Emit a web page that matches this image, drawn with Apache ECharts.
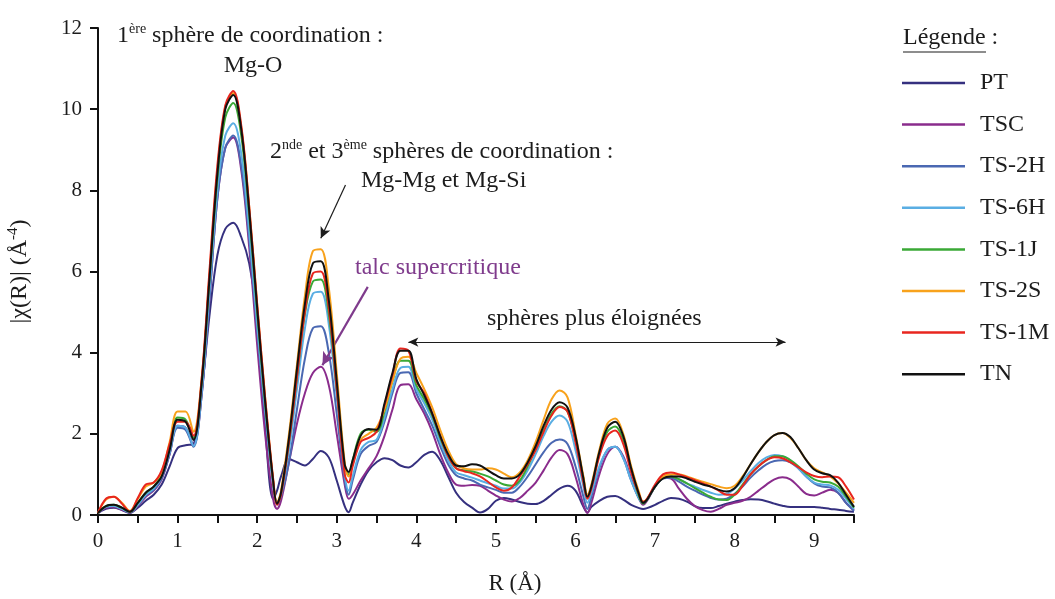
<!DOCTYPE html>
<html>
<head>
<meta charset="utf-8">
<script src="https://cdn.jsdelivr.net/npm/echarts@6/dist/echarts.min.js"></script>
<style>
html, body { margin: 0; padding: 0; background: #fff; }
#chart { width: 1055px; height: 599px; }
</style>
</head>
<body>
<div id="chart"></div>
<script>
// R (Å) sampling shared by every curve
const R = [0, 0.1, 0.2, 0.3, 0.4, 0.5, 0.6, 0.7, 0.8, 0.9, 1.0, 1.1, 1.2,
    1.3, 1.4, 1.5, 1.6, 1.7, 1.8, 1.9, 2.0, 2.1, 2.2,
    2.25, 2.3, 2.4, 2.5, 2.6, 2.7, 2.8, 2.9, 3.0, 3.1,
    3.15, 3.2, 3.3, 3.4, 3.5, 3.6, 3.7, 3.8, 3.9, 4.0,
    4.1, 4.2, 4.3, 4.4, 4.5, 4.6, 4.7, 4.8, 4.9, 5.0,
    5.1, 5.2, 5.3, 5.4, 5.5, 5.6, 5.7, 5.8, 5.9, 6.0, 6.1,
    6.15, 6.2, 6.3, 6.4, 6.5, 6.6, 6.7, 6.8,
    6.85, 6.9, 7.0, 7.1, 7.2, 7.3, 7.4, 7.5, 7.6, 7.7, 7.8, 7.9, 8.0,
    8.1, 8.2, 8.3, 8.4, 8.5, 8.6, 8.7, 8.8, 8.9, 9.0, 9.1, 9.2, 9.3, 9.4, 9.5];

const PT = [0.05, 0.15, 0.18, 0.12, 0.05, 0.18, 0.35, 0.5, 0.75, 1.2, 1.65, 1.72, 1.75,
    3.0, 4.9, 6.4, 7.05, 7.2, 6.85, 6.2, 4.9, 2.2, 0.4,
    0.6, 0.95, 1.38, 1.3, 1.22, 1.38, 1.58, 1.42, 0.85, 0.22,
    0.07, 0.3, 0.75, 1.1, 1.3, 1.4, 1.35, 1.22, 1.17, 1.3,
    1.48, 1.56, 1.35, 0.95, 0.55, 0.32, 0.18, 0.06, 0.15, 0.35,
    0.42, 0.38, 0.32, 0.28, 0.27, 0.35, 0.5, 0.65, 0.72, 0.6, 0.2,
    0.06, 0.2, 0.35, 0.45, 0.47, 0.38, 0.25, 0.17,
    0.15, 0.17, 0.25, 0.35, 0.42, 0.4, 0.33, 0.22, 0.17, 0.17, 0.22, 0.28, 0.33,
    0.37, 0.39, 0.38, 0.34, 0.28, 0.23, 0.2, 0.2, 0.2, 0.2, 0.18, 0.15, 0.13, 0.1, 0.08];

const TSC = [0.05, 0.18, 0.2, 0.13, 0.06, 0.22, 0.45, 0.6, 0.88, 1.5, 2.2, 2.15, 1.72,
    2.9, 5.3, 7.8, 9.05, 9.3, 8.5, 6.6, 4.2, 2.0, 0.4,
    0.15, 0.35, 1.3, 2.25, 3.0, 3.5, 3.65, 3.2, 2.0, 0.75,
    0.4, 0.5, 0.85, 1.15, 1.45, 1.95, 2.6, 3.2, 3.22, 2.85,
    2.5, 2.05, 1.5, 1.05, 0.75, 0.72, 0.74, 0.72, 0.6, 0.48,
    0.38, 0.33, 0.42, 0.6, 0.8, 1.1, 1.42, 1.6, 1.5, 0.95, 0.25,
    0.05, 0.3, 1.0, 1.5, 1.68, 1.45, 0.9, 0.4,
    0.25, 0.35, 0.7, 0.92, 0.9, 0.65, 0.4, 0.22, 0.12, 0.08, 0.15, 0.25, 0.3,
    0.35, 0.45, 0.6, 0.75, 0.88, 0.93, 0.88, 0.7, 0.52, 0.48, 0.55, 0.62, 0.55, 0.3, 0.12];

const TS_2H = [0.05, 0.2, 0.22, 0.15, 0.07, 0.25, 0.48, 0.62, 0.9, 1.5, 2.15, 2.1, 1.68,
    2.9, 5.3, 7.8, 9.05, 9.35, 8.6, 6.8, 4.55, 2.5, 0.75,
    0.26, 0.45, 1.3, 2.6, 3.85, 4.6, 4.65, 4.0, 2.5, 0.85,
    0.5, 0.85, 1.5, 1.7, 1.8, 2.3, 3.0, 3.5, 3.52, 3.0,
    2.6, 2.2, 1.7, 1.25, 0.98, 0.9, 0.85, 0.75, 0.68, 0.62,
    0.55, 0.55, 0.7, 0.95, 1.25, 1.55, 1.78, 1.86, 1.75, 1.2, 0.45,
    0.15, 0.45, 1.15, 1.6, 1.68, 1.4, 0.85, 0.4,
    0.3, 0.38, 0.7, 0.9, 0.92, 0.82, 0.7, 0.6, 0.5, 0.42, 0.38, 0.4, 0.52,
    0.7, 0.92, 1.1, 1.25, 1.33, 1.35, 1.3, 1.15, 0.95, 0.78, 0.7, 0.68, 0.55, 0.3, 0.1];

const TS_6H = [0.05, 0.2, 0.22, 0.15, 0.07, 0.25, 0.5, 0.65, 0.95, 1.55, 2.2, 2.15, 1.7,
    3.0, 5.5, 8.0, 9.35, 9.65, 8.9, 7.0, 4.7, 2.6, 0.8,
    0.28, 0.5, 1.6, 3.1, 4.6, 5.45, 5.5, 4.7, 2.9, 1.0,
    0.6, 0.95, 1.6, 1.8, 1.85, 2.4, 3.1, 3.62, 3.65, 3.1,
    2.75, 2.35, 1.8, 1.35, 1.05, 0.98, 0.92, 0.85, 0.78, 0.72,
    0.65, 0.65, 0.8, 1.1, 1.5, 1.95, 2.3, 2.45, 2.3, 1.6, 0.7,
    0.3, 0.55, 1.2, 1.6, 1.68, 1.4, 0.85, 0.4,
    0.3, 0.38, 0.7, 0.92, 0.95, 0.88, 0.78, 0.7, 0.62, 0.55, 0.5, 0.52, 0.65,
    0.85, 1.08, 1.28, 1.42, 1.48, 1.45, 1.35, 1.15, 0.95, 0.8, 0.75, 0.73, 0.62, 0.4, 0.15];

const TS_1J = [0.05, 0.22, 0.25, 0.18, 0.08, 0.3, 0.55, 0.7, 1.0, 1.65, 2.4, 2.35, 1.9,
    3.2, 5.8, 8.3, 9.8, 10.15, 9.35, 7.4, 5.0, 2.75, 0.85,
    0.28, 0.55, 1.8, 3.4, 4.95, 5.75, 5.8, 4.95, 3.1, 1.2,
    1.0, 1.35, 2.0, 2.1, 2.05, 2.55, 3.3, 3.8, 3.8, 3.2,
    2.85, 2.45, 1.9, 1.45, 1.15, 1.1, 1.08, 1.02, 0.95, 0.85,
    0.75, 0.72, 0.85, 1.2, 1.65, 2.1, 2.5, 2.68, 2.55, 1.85, 0.9,
    0.45, 0.7, 1.5, 2.05, 2.18, 1.85, 1.1, 0.45,
    0.28, 0.38, 0.7, 0.92, 0.95, 0.88, 0.78, 0.66, 0.55, 0.45, 0.38, 0.37, 0.5,
    0.75, 1.0, 1.2, 1.35, 1.45, 1.45, 1.35, 1.2, 1.02, 0.88, 0.82, 0.8, 0.7, 0.45, 0.18];

const TS_2S = [0.05, 0.38, 0.45, 0.3, 0.1, 0.4, 0.7, 0.8, 1.05, 1.8, 2.55, 2.55, 2.05,
    3.3, 5.9, 8.5, 10.05, 10.4, 9.55, 7.6, 5.2, 2.9, 0.9,
    0.3, 0.6, 2.0, 3.7, 5.4, 6.5, 6.55, 5.6, 3.5, 1.3,
    0.95, 1.25, 1.85, 2.0, 2.15, 2.6, 3.3, 3.85, 3.9, 3.5,
    3.1, 2.65, 2.1, 1.6, 1.25, 1.15, 1.12, 1.12, 1.15, 1.12,
    1.02, 0.93, 1.05, 1.35, 1.8, 2.35, 2.85, 3.07, 2.9, 2.0, 0.95,
    0.5, 0.75, 1.6, 2.25, 2.38, 2.0, 1.2, 0.55,
    0.33, 0.4, 0.72, 0.95, 1.0, 1.0, 0.95, 0.88, 0.82, 0.76, 0.7, 0.66, 0.72,
    0.95, 1.25, 1.55, 1.8, 1.97, 2.02, 1.9, 1.65, 1.35, 1.15, 1.05, 0.95, 0.78, 0.55, 0.3];

const TS_1M = [0.05, 0.4, 0.45, 0.28, 0.08, 0.42, 0.75, 0.8, 1.1, 1.75, 2.3, 2.3, 1.95,
    3.3, 6.0, 8.6, 10.1, 10.45, 9.6, 7.6, 5.2, 2.9, 0.9,
    0.25, 0.5, 1.8, 3.4, 5.0, 5.95, 6.0, 5.1, 3.1, 1.0,
    0.8, 1.2, 1.8, 1.9, 2.05, 2.7, 3.45, 4.1, 4.05, 3.3,
    3.0, 2.5, 1.95, 1.45, 1.15, 1.08, 1.03, 0.95, 0.82, 0.68,
    0.6, 0.68, 0.95, 1.25, 1.6, 2.05, 2.45, 2.66, 2.55, 1.8, 0.8,
    0.4, 0.65, 1.45, 1.95, 2.08, 1.75, 1.05, 0.5,
    0.32, 0.4, 0.75, 1.0, 1.05, 1.0, 0.93, 0.86, 0.78, 0.7, 0.6, 0.5, 0.5,
    0.72, 1.0, 1.2, 1.35, 1.42, 1.4, 1.3, 1.18, 1.05, 0.96, 0.93, 0.95, 0.93, 0.7, 0.38];

const TN = [0.05, 0.22, 0.25, 0.18, 0.08, 0.3, 0.55, 0.7, 0.95, 1.6, 2.35, 2.3, 1.85,
    3.2, 5.8, 8.4, 10.0, 10.35, 9.5, 7.5, 5.1, 2.8, 0.85,
    0.28, 0.55, 1.9, 3.6, 5.2, 6.2, 6.25, 5.3, 3.3, 1.25,
    1.06, 1.35, 1.95, 2.12, 2.1, 2.75, 3.5, 4.05, 4.05, 3.35,
    2.95, 2.5, 1.95, 1.5, 1.22, 1.2, 1.25, 1.22, 1.1, 0.98,
    0.9, 0.9, 1.0, 1.3, 1.7, 2.2, 2.6, 2.78, 2.65, 1.95, 0.9,
    0.45, 0.7, 1.55, 2.15, 2.3, 1.95, 1.15, 0.5,
    0.3, 0.38, 0.7, 0.9, 0.95, 0.95, 0.9, 0.82, 0.75, 0.7, 0.62, 0.58, 0.66,
    0.92, 1.25, 1.55, 1.8, 1.97, 2.02, 1.92, 1.65, 1.35, 1.12, 1.03, 0.98, 0.8, 0.5, 0.2];

const names = ['PT', 'TSC', 'TS-2H', 'TS-6H', 'TS-1J', 'TS-2S', 'TS-1M', 'TN'];
const curves = [PT, TSC, TS_2H, TS_6H, TS_1J, TS_2S, TS_1M, TN];
const colors = ['#35307f', '#8a2c8c', '#4a68b2', '#5aaee3', '#3aa936', '#f8a21c', '#e8261f', '#111111'];

const FONT = '"Liberation Serif", "Times New Roman", serif';
const INK = '#1c1c1c';
const PURPLE = '#7f3b8c';

const chart = echarts.init(document.getElementById('chart'));

let series = curves.map(function (vals, k) {
    return {
        name: names[k],
        type: 'line',
        data: R.map(function (r, i) { return [r, vals[i]]; }),
        smooth: 0.35,
        symbol: 'none',
        lineStyle: { color: colors[k], width: 2 },
        itemStyle: { color: colors[k] },
        z: 2 + k
    };
});

// annotation arrows, placed in data coordinates
series[7].markLine = {
    silent: true,
    animation: false,
    label: { show: false },
    symbolSize: 10,
    data: [
        [{ coord: [3.11, 8.13], symbol: 'none', lineStyle: { color: INK, width: 1.2, type: 'solid' } },
            { coord: [2.80, 6.82], symbol: 'arrow', symbolSize: [8, 11] }],
        [{ coord: [3.39, 5.62], symbol: 'none', lineStyle: { color: PURPLE, width: 2.2, type: 'solid' } },
            { coord: [2.82, 3.69], symbol: 'arrow', symbolSize: [10, 13] }],
        [{ coord: [3.9, 4.26], symbol: 'arrow', symbolSize: [7, 10], lineStyle: { color: INK, width: 1.2, type: 'solid' } },
            { coord: [8.64, 4.26], symbol: 'arrow', symbolSize: [7, 10] }]
    ]
};

const bigText = { fontSize: 24, fontFamily: FONT, lineHeight: 28, fill: INK, color: INK };
const supText = { fontSize: 14, fontFamily: FONT, lineHeight: 15, verticalAlign: 'top', fill: INK, color: INK };
const FONT24 = '24px ' + FONT;

chart.setOption({
    animation: false,
    textStyle: { fontFamily: FONT },
    grid: { left: 98, right: 201, top: 28, bottom: 84, containLabel: false, outerBoundsMode: 'none' },
    legend: {
        data: names,
        orient: 'vertical',
        left: 902,
        top: 71,
        padding: 0,
        icon: 'rect',
        itemWidth: 63,
        itemHeight: 2.5,
        itemGap: 17.6,
        textStyle: { fontSize: 24, lineHeight: 22, color: INK, fontFamily: FONT, padding: [0, 0, 0, 10] }
    },
    xAxis: {
        type: 'value',
        min: 0,
        max: 9.5,
        interval: 0.5,
        name: 'R (Å)',
        nameLocation: 'middle',
        nameGap: 57,
        nameTextStyle: { fontSize: 23, color: INK, fontFamily: FONT, padding: [0, 0, 0, 78] },
        axisLine: { lineStyle: { color: '#111', width: 2 } },
        axisTick: { length: 8, lineStyle: { color: '#111', width: 2 } },
        axisLabel: {
            fontSize: 21, color: INK, fontFamily: FONT, margin: 16,
            formatter: function (v) { return Number.isInteger(v) ? String(v) : ''; }
        },
        splitLine: { show: false }
    },
    yAxis: {
        type: 'value',
        min: 0,
        max: 12,
        interval: 2,
        name: '{t||χ(R)| (Å}{s|-4}{t|)}',
        nameLocation: 'middle',
        nameRotate: 90,
        nameGap: 64,
        nameTextStyle: {
            rich: {
                t: { fontSize: 24, fontFamily: FONT, color: INK, lineHeight: 28 },
                s: { fontSize: 15, fontFamily: FONT, color: INK, lineHeight: 16, verticalAlign: 'top' }
            }
        },
        axisLine: { show: true, lineStyle: { color: '#111', width: 2 } },
        axisTick: { show: true, length: 8, lineStyle: { color: '#111', width: 2 } },
        axisLabel: { fontSize: 21, color: INK, fontFamily: FONT, margin: 16 },
        splitLine: { show: false }
    },
    graphic: [
        {
            type: 'text', x: 117, y: 36,
            style: {
                text: '{n|1}{s|ère}{n| sphère de coordination :}',
                verticalAlign: 'middle', align: 'left',
                rich: { n: bigText, s: supText }
            }
        },
        {
            type: 'text', x: 253, y: 66,
            style: { text: 'Mg-O', font: FONT24, fill: INK, align: 'center', verticalAlign: 'middle' }
        },
        {
            type: 'text', x: 270, y: 152,
            style: {
                text: '{n|2}{s|nde}{n| et 3}{s|ème}{n| sphères de coordination :}',
                verticalAlign: 'middle', align: 'left',
                rich: { n: bigText, s: supText }
            }
        },
        {
            type: 'text', x: 361, y: 181,
            style: { text: 'Mg-Mg et Mg-Si', font: FONT24, fill: INK, align: 'left', verticalAlign: 'middle' }
        },
        {
            type: 'text', x: 355, y: 268,
            style: { text: 'talc supercritique', font: FONT24, fill: PURPLE, align: 'left', verticalAlign: 'middle' }
        },
        {
            type: 'text', x: 487, y: 319,
            style: { text: 'sphères plus éloignées', font: FONT24, fill: INK, align: 'left', verticalAlign: 'middle' }
        },
        {
            type: 'text', x: 903, y: 38,
            style: { text: 'Légende :', font: FONT24, fill: INK, align: 'left', verticalAlign: 'middle' }
        },
        {
            type: 'line',
            shape: { x1: 903, y1: 52, x2: 986, y2: 52 },
            style: { stroke: INK, lineWidth: 1.2 }
        }
    ],
    series: series
});
</script>
</body>
</html>
